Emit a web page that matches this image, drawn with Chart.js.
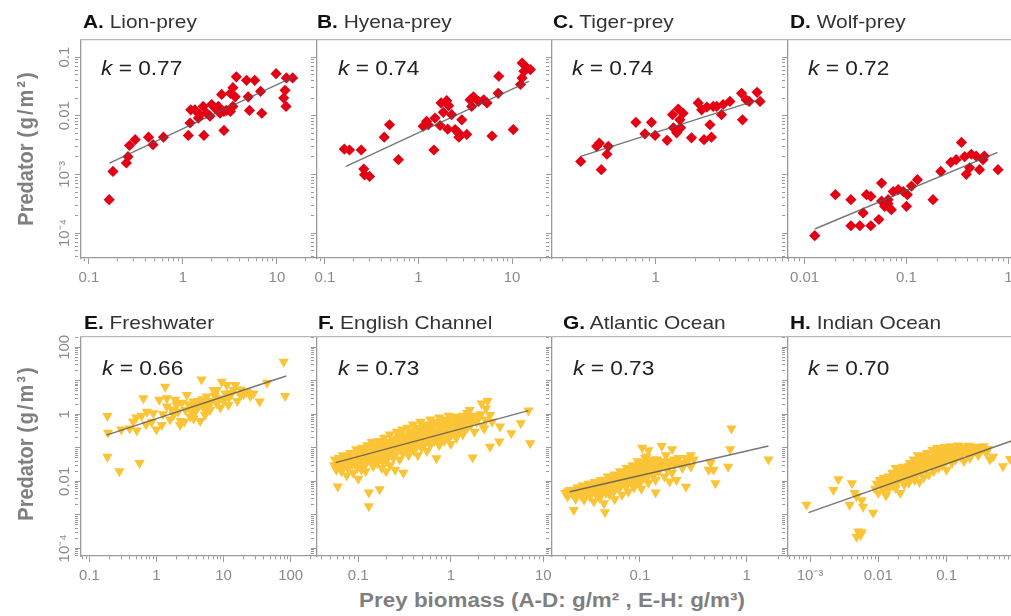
<!DOCTYPE html>
<html>
<head>
<meta charset="utf-8">
<title>Predator vs prey biomass</title>
<script src="https://cdn.jsdelivr.net/npm/chart.js@4.4.1/dist/chart.umd.min.js"></script>
<style>
  html, body { margin:0; padding:0; background:#fff; }
  body { width:1011px; height:616px; overflow:hidden; position:relative; font-family:"Liberation Sans", Arial, Helvetica, sans-serif; }
  canvas { position:absolute; }
  .txt { position:absolute; white-space:nowrap; line-height:1; }
  .ptitle { font-size:19px; color:#333; transform-origin:0 50%; transform:translateY(-50%) scaleX(1.1); }
  .ptitle b { color:#111; }
  .klab { font-size:21px; color:#222; transform-origin:0 50%; transform:translateY(-50%) scaleX(1.08); }
  .ytitle { font-size:20px; font-weight:bold; color:#7f7f7f; transform:translate(-50%,-50%) scaleX(1.12) rotate(-90deg); }
  .ytitle span { letter-spacing:2px; }
  .xtitle { font-size:20px; font-weight:bold; color:#7f7f7f; transform:translate(-50%,-50%) scaleX(1.12); }
</style>
</head>
<body>
<script>
// ---------------- DATA ----------------
const panelLetters = ['A', 'B', 'C', 'D', 'E', 'F', 'G', 'H'];
const panelNames = ['Lion-prey', 'Hyena-prey', 'Tiger-prey', 'Wolf-prey', 'Freshwater', 'English Channel', 'Atlantic Ocean', 'Indian Ocean'];
const kValues = ['0.77', '0.74', '0.74', '0.72', '0.66', '0.73', '0.73', '0.70'];

const lionPrey = [[0.164,3.7e-4],[0.18,1.12e-3],[0.25,1.56e-3],[0.26,2.0e-3],[0.27,3.1e-3],[0.31,3.9e-3],[0.43,4.3e-3],[0.48,3.2e-3],[0.62,4.3e-3],[1.14,4.6e-3],[1.19,7.5e-3],[1.21,0.0126],[1.34,0.0126],[1.46,0.0091],[1.52,0.0104],[1.64,0.0144],[1.67,4.6e-3],[1.79,0.011],[1.94,0.0098],[2.02,0.0155],[2.19,0.0135],[2.38,0.0144],[2.48,0.011],[2.58,0.023],[2.73,5.6e-3],[2.73,0.0118],[2.9,0.0123],[3.2,0.024],[3.2,0.0118],[3.4,0.03],[3.4,0.0144],[3.6,0.021],[3.7,0.046],[4.75,0.04],[4.95,0.021],[5.1,0.0123],[5.8,0.04],[6.7,0.026],[6.9,0.011],[9.8,0.052],[11.8,0.02],[12.2,0.027],[12.5,0.0144],[12.6,0.044],[14.7,0.044]];
const hyenaPrey = [[0.161,2.7e-3],[0.183,2.6e-3],[0.244,2.6e-3],[0.26,1.23e-3],[0.265,9.8e-4],[0.3,9.2e-4],[0.43,4.3e-3],[0.49,7.0e-3],[0.61,1.78e-3],[1.12,6.6e-3],[1.22,8.0e-3],[1.27,7.0e-3],[1.46,2.6e-3],[1.5,9.1e-3],[1.7,6.8e-3],[1.74,0.0165],[1.84,0.0114],[2.0,0.018],[2.05,5.9e-3],[2.1,0.0148],[2.26,0.0104],[2.46,5.8e-3],[2.67,5.1e-3],[2.7,4.3e-3],[2.9,8.5e-3],[3.28,4.8e-3],[3.56,0.0186],[3.7,0.0144],[3.86,0.021],[4.38,0.0175],[4.98,0.0186],[5.4,0.0165],[6.1,4.5e-3],[7.1,0.024],[7.2,0.047],[10.3,5.8e-3],[12.3,0.034],[12.8,0.079],[12.8,0.044],[13.4,0.057],[14.5,0.065],[15.7,0.061]];
const tigerPrey = [[0.273,1.66e-3],[0.36,3.0e-3],[0.377,3.4e-3],[0.39,1.2e-3],[0.43,2.2e-3],[0.44,3.0e-3],[0.71,7.7e-3],[0.83,4.9e-3],[0.93,7.7e-3],[0.99,4.6e-3],[1.22,3.8e-3],[1.34,0.0104],[1.36,6.2e-3],[1.44,5.1e-3],[1.48,0.013],[1.52,8.5e-3],[1.54,6.2e-3],[1.61,0.011],[1.86,4.2e-3],[2.09,0.0165],[2.22,0.0126],[2.31,3.9e-3],[2.43,0.014],[2.56,7.0e-3],[2.63,4.3e-3],[2.71,0.0144],[2.88,0.0144],[3.13,0.0104],[3.22,0.0155],[3.62,0.0175],[4.43,0.024],[4.5,8.5e-3],[4.8,0.0186],[5.05,0.0175],[5.8,0.025],[6.1,0.0175]];
const wolfPrey = [[0.0126,9e-5],[0.0201,4.5e-4],[0.0285,3.7e-4],[0.0285,1.33e-4],[0.0349,1.33e-4],[0.0447,1.33e-4],[0.0376,2.2e-4],[0.0405,4.5e-4],[0.0447,4.2e-4],[0.0536,1.7e-4],[0.057,7.1e-4],[0.057,3.5e-4],[0.061,2.85e-4],[0.066,3.7e-4],[0.066,3.2e-4],[0.071,2.5e-4],[0.074,5.1e-4],[0.083,5.5e-4],[0.093,5.1e-4],[0.1,2.85e-4],[0.102,4.5e-4],[0.112,6.3e-4],[0.128,8.1e-4],[0.182,3.7e-4],[0.217,1.12e-3],[0.272,1.6e-3],[0.307,1.78e-3],[0.346,3.5e-3],[0.372,2.0e-3],[0.386,1.0e-3],[0.416,1.29e-3],[0.432,2.2e-3],[0.482,2.05e-3],[0.52,1.2e-3],[0.563,1.78e-3],[0.58,2.05e-3],[0.79,1.2e-3]];
const freshwater = [[0.186,0.89],[0.19,0.28],[0.186,0.054],[0.28,0.02],[0.56,0.035],[0.4,0.38],[0.5,0.81],[0.64,3.0],[0.51,0.33],[0.72,1.2],[0.9,1.07],[1.2,0.48],[1.35,6.7],[1.43,1.7],[1.8,0.95],[2.0,1.9],[2.25,0.48],[2.3,0.63],[2.84,3.8],[3.4,1.7],[3.7,1.1],[4.2,2.5],[4.5,0.63],[4.7,11],[5.0,1.7],[5.6,3.4],[6.3,1.35],[7.1,5.3],[7.9,2.1],[9.4,9.4],[10.6,4.2],[11.8,1.9],[14.1,5.3],[15,7.5],[17.8,3.8],[22.3,4.7],[28,4.2],[34.5,2.4],[44.6,8.8],[78.7,37],[82.8,3.5],[3.57,2.4],[5.3,0.95],[3.2,0.85],[7.9,5.3],[12.5,4.2],[2.7,1.35],[1.1,2.7],[0.85,0.6],[1.43,3.0],[1.9,2.7],[11.2,7.5],[5.6,2.1],[0.3,0.35],[0.45,0.6],[0.6,0.9],[0.7,0.5],[1.0,0.35],[1.6,0.7],[2.1,1.2],[2.6,0.6],[3.0,2.0],[3.6,0.75],[4.0,1.5],[4.8,2.8],[5.5,1.2],[6.5,2.5],[8.5,3.0],[9.0,1.6],[12,3.2],[16,2.5],[20,4.0],[25,3.5],[1.25,1.0],[1.7,1.4],[2.4,2.2],[3.3,1.2],[4.4,1.9],[6.0,1.7],[7.4,3.6],[10,2.6],[13,3.9],[18,5.5]];
const englishChannel = [[0.055,0.03],[0.056,0.045],[0.058,0.022],[0.06,0.007],[0.062,0.05],[0.065,0.035],[0.066,0.02],[0.068,0.06],[0.07,0.028],[0.072,0.04],[0.075,0.015],[0.078,0.055],[0.08,0.03],[0.082,0.07],[0.085,0.045],[0.088,0.018],[0.09,0.06],[0.092,0.035],[0.095,0.09],[0.097,0.025],[0.1,0.05],[0.1,0.075],[0.1,0.012],[0.105,0.04],[0.11,0.1],[0.11,0.03],[0.115,0.065],[0.12,0.02],[0.12,0.05],[0.125,0.12],[0.13,0.0046],[0.13,0.0018],[0.13,0.08],[0.135,0.04],[0.14,0.06],[0.14,0.15],[0.145,0.028],[0.15,0.09],[0.15,0.05],[0.155,0.12],[0.16,0.035],[0.16,0.07],[0.165,0.16],[0.17,0.0058],[0.17,0.1],[0.175,0.05],[0.18,0.13],[0.18,0.025],[0.185,0.08],[0.19,0.2],[0.195,0.06],[0.2,0.11],[0.2,0.04],[0.2,0.02],[0.21,0.15],[0.21,0.07],[0.22,0.25],[0.22,0.03],[0.23,0.1],[0.24,0.18],[0.24,0.05],[0.25,0.13],[0.25,0.022],[0.26,0.08],[0.26,0.3],[0.27,0.2],[0.28,0.045],[0.28,0.11],[0.29,0.16],[0.3,0.35],[0.3,0.07],[0.307,0.018],[0.31,0.12],[0.32,0.22],[0.33,0.09],[0.34,0.4],[0.35,0.15],[0.35,0.06],[0.36,0.25],[0.37,0.11],[0.38,0.18],[0.39,0.5],[0.4,0.08],[0.4,0.3],[0.42,0.14],[0.43,0.22],[0.44,0.06],[0.45,0.4],[0.46,0.17],[0.47,0.6],[0.48,0.1],[0.5,0.28],[0.5,0.2],[0.52,0.13],[0.53,0.45],[0.55,0.08],[0.57,0.33],[0.58,0.2],[0.6,0.7],[0.6,0.12],[0.62,0.25],[0.64,0.4],[0.66,0.16],[0.68,0.55],[0.7,0.049],[0.7,0.3],[0.72,0.2],[0.75,0.8],[0.75,0.12],[0.78,0.35],[0.8,0.25],[0.82,0.5],[0.85,0.16],[0.88,0.7],[0.9,0.3],[0.95,0.2],[0.95,0.9],[1.0,0.45],[1.0,0.13],[1.05,0.6],[1.1,0.3],[1.1,0.85],[1.15,0.2],[1.2,0.5],[1.25,0.35],[1.3,0.75],[1.35,0.25],[1.4,0.55],[1.5,1.1],[1.5,0.4],[1.6,1.35],[1.6,0.6],[1.72,0.051],[1.8,0.3],[2.0,0.8],[2.15,2.1],[2.2,0.45],[2.3,0.38],[2.4,1.5],[2.5,2.5],[2.65,0.108],[2.65,0.95],[2.8,0.6],[3.34,0.153],[3.4,0.43],[4.5,0.27],[5.7,0.54],[6.9,1.29],[7.2,0.136],
  [0.058,0.04],[0.063,0.028],[0.067,0.045],[0.071,0.052],[0.074,0.033],[0.077,0.025],[0.079,0.04],[0.083,0.055],[0.086,0.032],[0.089,0.042],[0.093,0.065],[0.096,0.048],[0.098,0.038],[0.102,0.062],[0.107,0.055],[0.108,0.022],[0.112,0.045],[0.117,0.08],[0.122,0.035],[0.127,0.06],[0.132,0.05],[0.137,0.1],[0.142,0.035],[0.147,0.07],[0.152,0.065],[0.158,0.045],[0.163,0.09],[0.168,0.06],[0.172,0.13],[0.178,0.075],[0.183,0.04],[0.188,0.11],[0.193,0.09],[0.198,0.07],[0.205,0.055],[0.215,0.12],[0.225,0.08],[0.235,0.14],[0.245,0.065],[0.255,0.1],[0.265,0.16],[0.275,0.09],[0.285,0.25],[0.295,0.12],[0.31,0.18],[0.32,0.08],[0.33,0.14],[0.345,0.2],[0.36,0.1],[0.37,0.3],[0.385,0.13],[0.4,0.2],[0.41,0.1],[0.425,0.35],[0.44,0.16],[0.455,0.25],[0.47,0.13],[0.49,0.35],[0.51,0.16],[0.54,0.22],[0.56,0.5],[0.59,0.28],[0.61,0.17],[0.63,0.45],[0.65,0.22],[0.67,0.3],[0.7,0.6],[0.73,0.25],[0.76,0.45],[0.79,0.18],[0.83,0.35],[0.86,0.6],[0.9,0.22],[0.93,0.4],[0.97,0.65],[1.02,0.25],[1.07,0.4],[1.12,0.55],[1.18,0.32],[1.22,0.7],[1.28,0.45],[1.33,0.9],[1.38,0.35],[1.45,0.65],[1.55,0.8],[1.65,0.5],[1.75,0.9],[1.9,0.6],[2.1,1.0],[2.35,0.7]];
const atlanticOcean = [[0.02,0.0045],[0.021,0.0035],[0.022,0.0055],[0.024,0.0014],[0.024,0.004],[0.025,0.003],[0.026,0.0065],[0.027,0.005],[0.028,0.0038],[0.029,0.0075],[0.03,0.0028],[0.031,0.006],[0.032,0.0045],[0.033,0.0085],[0.034,0.0035],[0.035,0.0055],[0.036,0.007],[0.037,0.0025],[0.038,0.0095],[0.04,0.005],[0.041,0.0065],[0.042,0.0032],[0.043,0.011],[0.044,0.0045],[0.045,0.0075],[0.046,0.0022],[0.047,0.0012],[0.048,0.009],[0.05,0.006],[0.05,0.014],[0.052,0.004],[0.054,0.0105],[0.055,0.0075],[0.057,0.005],[0.058,0.016],[0.058,0.0029],[0.06,0.009],[0.062,0.012],[0.064,0.006],[0.065,0.02],[0.067,0.0085],[0.068,0.004],[0.07,0.014],[0.072,0.011],[0.074,0.007],[0.075,0.025],[0.077,0.0095],[0.078,0.005],[0.08,0.017],[0.082,0.013],[0.085,0.03],[0.085,0.008],[0.088,0.0065],[0.09,0.02],[0.092,0.011],[0.095,0.04],[0.097,0.015],[0.1,0.009],[0.1,0.025],[0.103,0.006],[0.105,0.018],[0.105,0.1],[0.108,0.032],[0.11,0.013],[0.112,0.05],[0.115,0.055],[0.118,0.021],[0.12,0.009],[0.12,0.085],[0.125,0.038],[0.13,0.016],[0.135,0.027],[0.14,0.0046],[0.14,0.011],[0.145,0.045],[0.15,0.02],[0.16,0.113],[0.16,0.03],[0.17,0.014],[0.175,0.06],[0.18,0.022],[0.19,0.0098],[0.19,0.04],[0.2,0.09],[0.2,0.018],[0.21,0.03],[0.22,0.011],[0.23,0.05],[0.25,0.025],[0.26,0.035],[0.27,0.0069],[0.28,0.04],[0.3,0.027],[0.3,0.06],[0.32,0.045],[0.44,0.022],[0.46,0.035],[0.49,0.022],[0.51,0.0087],[0.67,0.027],[0.7,0.09],[0.72,0.38],[1.6,0.045],
  [0.021,0.005],[0.023,0.0045],[0.025,0.0055],[0.026,0.004],[0.028,0.006],[0.03,0.005],[0.031,0.0072],[0.033,0.0055],[0.035,0.0045],[0.036,0.0085],[0.038,0.006],[0.039,0.004],[0.04,0.008],[0.042,0.0055],[0.044,0.009],[0.046,0.006],[0.048,0.0045],[0.05,0.0085],[0.052,0.011],[0.053,0.0065],[0.056,0.009],[0.059,0.012],[0.061,0.007],[0.063,0.015],[0.066,0.011],[0.069,0.009],[0.071,0.018],[0.073,0.013],[0.076,0.02],[0.079,0.011],[0.081,0.022],[0.084,0.015],[0.087,0.012],[0.089,0.026],[0.091,0.017],[0.094,0.014],[0.096,0.022],[0.099,0.012],[0.102,0.03],[0.107,0.015],[0.11,0.024],[0.113,0.035],[0.117,0.013],[0.122,0.028],[0.128,0.02],[0.133,0.045],[0.138,0.017],[0.143,0.03],[0.155,0.025],[0.165,0.04],[0.185,0.03],[0.21,0.045],[0.24,0.035],[0.27,0.05]];
const indianOcean = [[0.00089,0.002],[0.0022,0.0055],[0.0026,0.0115],[0.0038,0.002],[0.0041,0.0087],[0.0045,0.0045],[0.0048,0.0036],[0.0051,0.00032],[0.0048,0.00022],[0.0057,0.0003],[0.0055,0.00025],[0.006,0.00175],[0.0057,0.0027],[0.0084,0.00116],[0.009,0.006],[0.0095,0.0085],[0.01,0.0045],[0.0105,0.011],[0.011,0.007],[0.012,0.0055],[0.012,0.0125],[0.013,0.0085],[0.013,0.0038],[0.014,0.006],[0.014,0.014],[0.015,0.01],[0.016,0.0075],[0.016,0.018],[0.017,0.012],[0.018,0.0062],[0.018,0.025],[0.019,0.0095],[0.02,0.015],[0.021,0.0045],[0.021,0.02],[0.022,0.011],[0.023,0.027],[0.024,0.008],[0.025,0.016],[0.026,0.012],[0.027,0.022],[0.028,0.009],[0.029,0.035],[0.03,0.014],[0.032,0.019],[0.033,0.045],[0.034,0.011],[0.035,0.028],[0.036,0.016],[0.038,0.06],[0.039,0.024],[0.04,0.0095],[0.042,0.035],[0.043,0.018],[0.045,0.05],[0.046,0.013],[0.048,0.03],[0.05,0.022],[0.052,0.07],[0.055,0.016],[0.057,0.04],[0.06,0.028],[0.062,0.088],[0.065,0.02],[0.068,0.055],[0.07,0.035],[0.073,0.098],[0.076,0.025],[0.08,0.045],[0.083,0.075],[0.086,0.03],[0.09,0.06],[0.094,0.105],[0.098,0.04],[0.1,0.022],[0.105,0.08],[0.11,0.05],[0.115,0.112],[0.12,0.035],[0.125,0.065],[0.13,0.093],[0.135,0.045],[0.14,0.075],[0.15,0.118],[0.16,0.055],[0.17,0.088],[0.18,0.04],[0.19,0.102],[0.2,0.07],[0.21,0.115],[0.22,0.05],[0.24,0.095],[0.25,0.08],[0.27,0.108],[0.29,0.06],[0.3,0.098],[0.32,0.085],[0.35,0.112],[0.38,0.07],[0.4,0.092],[0.43,0.045],[0.48,0.054],[0.67,0.028],[0.85,0.046],[1.0,0.13],[1.05,0.1],
  [0.011,0.009],[0.013,0.011],[0.015,0.0075],[0.017,0.015],[0.019,0.012],[0.02,0.02],[0.022,0.016],[0.024,0.022],[0.026,0.018],[0.028,0.028],[0.03,0.02],[0.033,0.025],[0.035,0.04],[0.037,0.02],[0.04,0.03],[0.044,0.04],[0.047,0.025],[0.05,0.06],[0.053,0.035],[0.058,0.05],[0.063,0.04],[0.067,0.075],[0.072,0.05],[0.078,0.065],[0.082,0.035],[0.088,0.085],[0.092,0.05],[0.1,0.07],[0.108,0.095],[0.118,0.06],[0.128,0.08],[0.14,0.05],[0.155,0.085],[0.165,0.07],[0.185,0.08],[0.2,0.09],[0.23,0.075],[0.26,0.09],[0.28,0.08]];

// fitted power-law lines (end points)
const lionFit = [[0.165,0.00156],[15.0,0.046]];
const hyenaFit = [[0.168,0.00137],[15.1,0.0385]];
const tigerFit = [[0.273,0.00203],[6.1,0.0192]];
const wolfFit = [[0.0126,1.17e-4],[0.78,2.37e-3]];
const freshFit = [[0.18,0.24],[86,13.9]];
const channelFit = [[0.057,0.036],[6.9,1.29]];
const atlanticFit = [[0.022,0.0049],[1.6,0.113]];
const indianFit = [[0.00095,0.00116],[1.3,0.21]];

// axis ranges
const xRanges = [[0.0822,26.7],[0.0822,26.7],[0.166,9.9],[0.00689,1.42],[0.0752,247],[0.0358,12.4],[0.015,2.44],[0.000476,1.36]];
const yRangeTop = [3.75e-5, 0.195];
const yRangeBottom = [5.9e-5, 203];

// labelled decades (exponents)
const xLabelExps = [[-1,0,1],[-1,0,1],[0],[-2,-1,0],[-1,0,1,2],[-1,0,1],[-1,0],[-3,-2,-1,0]];
const yLabelExpsTop = [-1,-2,-3,-4];
const yLabelExpsBottom = [2,0,-2,-4];
const tickText = {'2':'100','1':'10','0':'1','-1':'0.1','-2':'0.01','-3':'10\u207B\u00B3','-4':'10\u207B\u2074'};

// ---------------- LAYOUT / STYLE ----------------
const colLeft = [81, 317, 552, 788];
const colWidth = [236, 235, 236, 236];
const rowTop = [40, 337];
const rowHeight = [218, 219];
const AXIS = '#9a9a9a';
const TOPLINE = '#b8b8b8';
const TICKCOL = '#8a8a8a';
const RED = 'rgb(228,0,20)';
const GOLD = 'rgb(251,196,55)';
const LINECOL = 'rgba(85,85,85,0.8)';
const FONT = '"Liberation Sans", Arial, sans-serif';

const panelData = [lionPrey, hyenaPrey, tigerPrey, wolfPrey, freshwater, englishChannel, atlanticOcean, indianOcean];
const panelFits = [lionFit, hyenaFit, tigerFit, wolfFit, freshFit, channelFit, atlanticFit, indianFit];

function isMajor(v) { const l = Math.log10(v); return Math.abs(l - Math.round(l)) < 1e-9; }
function logTicks(min, max) {
  const out = [];
  for (let e = Math.floor(Math.log10(min)); e <= Math.ceil(Math.log10(max)); e++) {
    for (let m = 1; m <= 9; m++) {
      const v = parseFloat((m * Math.pow(10, e)).toPrecision(10));
      if (v >= min && v <= max) out.push({ value: v, major: m === 1 });
    }
  }
  return out;
}
function labelFor(v, exps) {
  if (!isMajor(v)) return '';
  const e = Math.round(Math.log10(v));
  return exps.includes(e) ? tickText[String(e)] : '';
}

const measure = document.createElement('canvas').getContext('2d');
measure.font = '15px ' + FONT;

const TL = 6;
function gridOpts() {
  return {
    display: true, drawOnChartArea: false, drawTicks: true, tickLength: TL,
    tickColor: AXIS, tickWidth: 1,
    tickBorderDash: (c) => (c.tick && isMajor(c.tick.value)) ? [] : [3, 40]
  };
}

function addText(html, cls, left, top) {
  const d = document.createElement('div');
  d.className = 'txt ' + cls;
  d.innerHTML = html;
  d.style.left = left + 'px';
  d.style.top = top + 'px';
  document.body.appendChild(d);
}

function makePanel(i) {
  const row = i < 4 ? 0 : 1, col = i % 4;
  const Lw = col === 0 ? 60 : 10, Tp = 20, Rp = 20, Bh = 32;
  const W = Lw + colWidth[col] + Rp, H = Tp + rowHeight[row] + Bh;
  const cv = document.createElement('canvas');
  cv.width = W; cv.height = H;
  cv.style.left = (colLeft[col] - Lw) + 'px';
  cv.style.top = (rowTop[row] - Tp) + 'px';
  cv.style.width = W + 'px'; cv.style.height = H + 'px';
  document.body.appendChild(cv);

  const [xmin, xmax] = xRanges[i];
  const [ymin, ymax] = row === 0 ? yRangeTop : yRangeBottom;
  const yExps = row === 0 ? yLabelExpsTop : yLabelExpsBottom;

  let yTicks = { display: false };
  if (col === 0) {
    const widest = Math.max(...yExps.map(e => measure.measureText(tickText[String(e)]).width));
    yTicks = {
      display: true, autoSkip: false, minRotation: 90, maxRotation: 90, crossAlign: 'center',
      padding: 16 - TL - widest / 2, color: TICKCOL, font: { family: FONT, size: 15 },
      callback: (v) => labelFor(v, yExps)
    };
  }

  const pts = panelData[i].map(p => ({ x: p[0], y: p[1] }));
  const fit = panelFits[i].map(p => ({ x: p[0], y: p[1] }));

  new Chart(cv, {
    type: 'scatter',
    data: {
      datasets: [
        { type: 'line', data: fit, borderColor: LINECOL, borderWidth: 1.4, pointRadius: 0, fill: false,
          tension: 0, order: 0, xAxisID: 'x', yAxisID: 'y' },
        { type: 'scatter', data: pts, pointStyle: row === 0 ? 'rectRot' : 'triangle',
          rotation: row === 0 ? 0 : 180, pointRadius: row === 0 ? 5.6 : 6, pointHoverRadius: 5,
          backgroundColor: row === 0 ? RED : GOLD, borderWidth: 0, order: 1, xAxisID: 'x', yAxisID: 'y' }
      ]
    },
    options: {
      responsive: false, animation: false, devicePixelRatio: 1, events: [],
      layout: { padding: { top: Tp, right: Rp, left: 0, bottom: 0 } },
      plugins: { legend: { display: false }, tooltip: { enabled: false } },
      scales: {
        x: {
          type: 'logarithmic', position: 'bottom', min: xmin, max: xmax,
          afterBuildTicks: (s) => { s.ticks = logTicks(xmin, xmax); },
          afterFit: (s) => { s.height = Bh; },
          border: { display: true, color: AXIS, width: 1.3 },
          grid: gridOpts(),
          ticks: { autoSkip: false, maxRotation: 0, minRotation: 0, padding: 5, color: TICKCOL,
                   font: { family: FONT, size: 15 }, callback: (v) => labelFor(v, xLabelExps[i]) }
        },
        y: {
          type: 'logarithmic', position: 'left', min: ymin, max: ymax,
          afterBuildTicks: (s) => { s.ticks = logTicks(ymin, ymax); },
          afterFit: (s) => { s.width = Lw; },
          border: { display: true, color: AXIS, width: 1.3 },
          grid: gridOpts(),
          ticks: yTicks
        },
        xTop: {
          type: 'linear', position: 'top', min: 0, max: 1,
          afterFit: (s) => { s.height = 0; },
          border: { display: true, color: TOPLINE, width: 1.3 },
          grid: { display: false, drawTicks: false },
          ticks: { display: false }
        }
      }
    }
  });

  // panel title and k label
  const titleX = [83, 317, 553, 790, 84, 318, 563, 790][i];
  const titleY = row === 0 ? 21 : 322;
  addText('<b>' + panelLetters[i] + '.</b> ' + panelNames[i], 'ptitle', titleX, titleY);
  const kX = [101, 338, 572, 808, 102, 338, 573, 808][i];
  const kY = row === 0 ? 67 : 367;
  addText('<i>k</i> = ' + kValues[i], 'klab', kX, kY);
}

for (let i = 0; i < 8; i++) makePanel(i);

addText('Predator <span>(g/m\u00B2)</span>', 'ytitle', 25, 148);
addText('Predator <span>(g/m\u00B3)</span>', 'ytitle', 25, 443);
addText('Prey biomass (A-D: g/m\u00B2 , E-H: g/m\u00B3)', 'xtitle', 552, 600);
</script>
</body>
</html>
